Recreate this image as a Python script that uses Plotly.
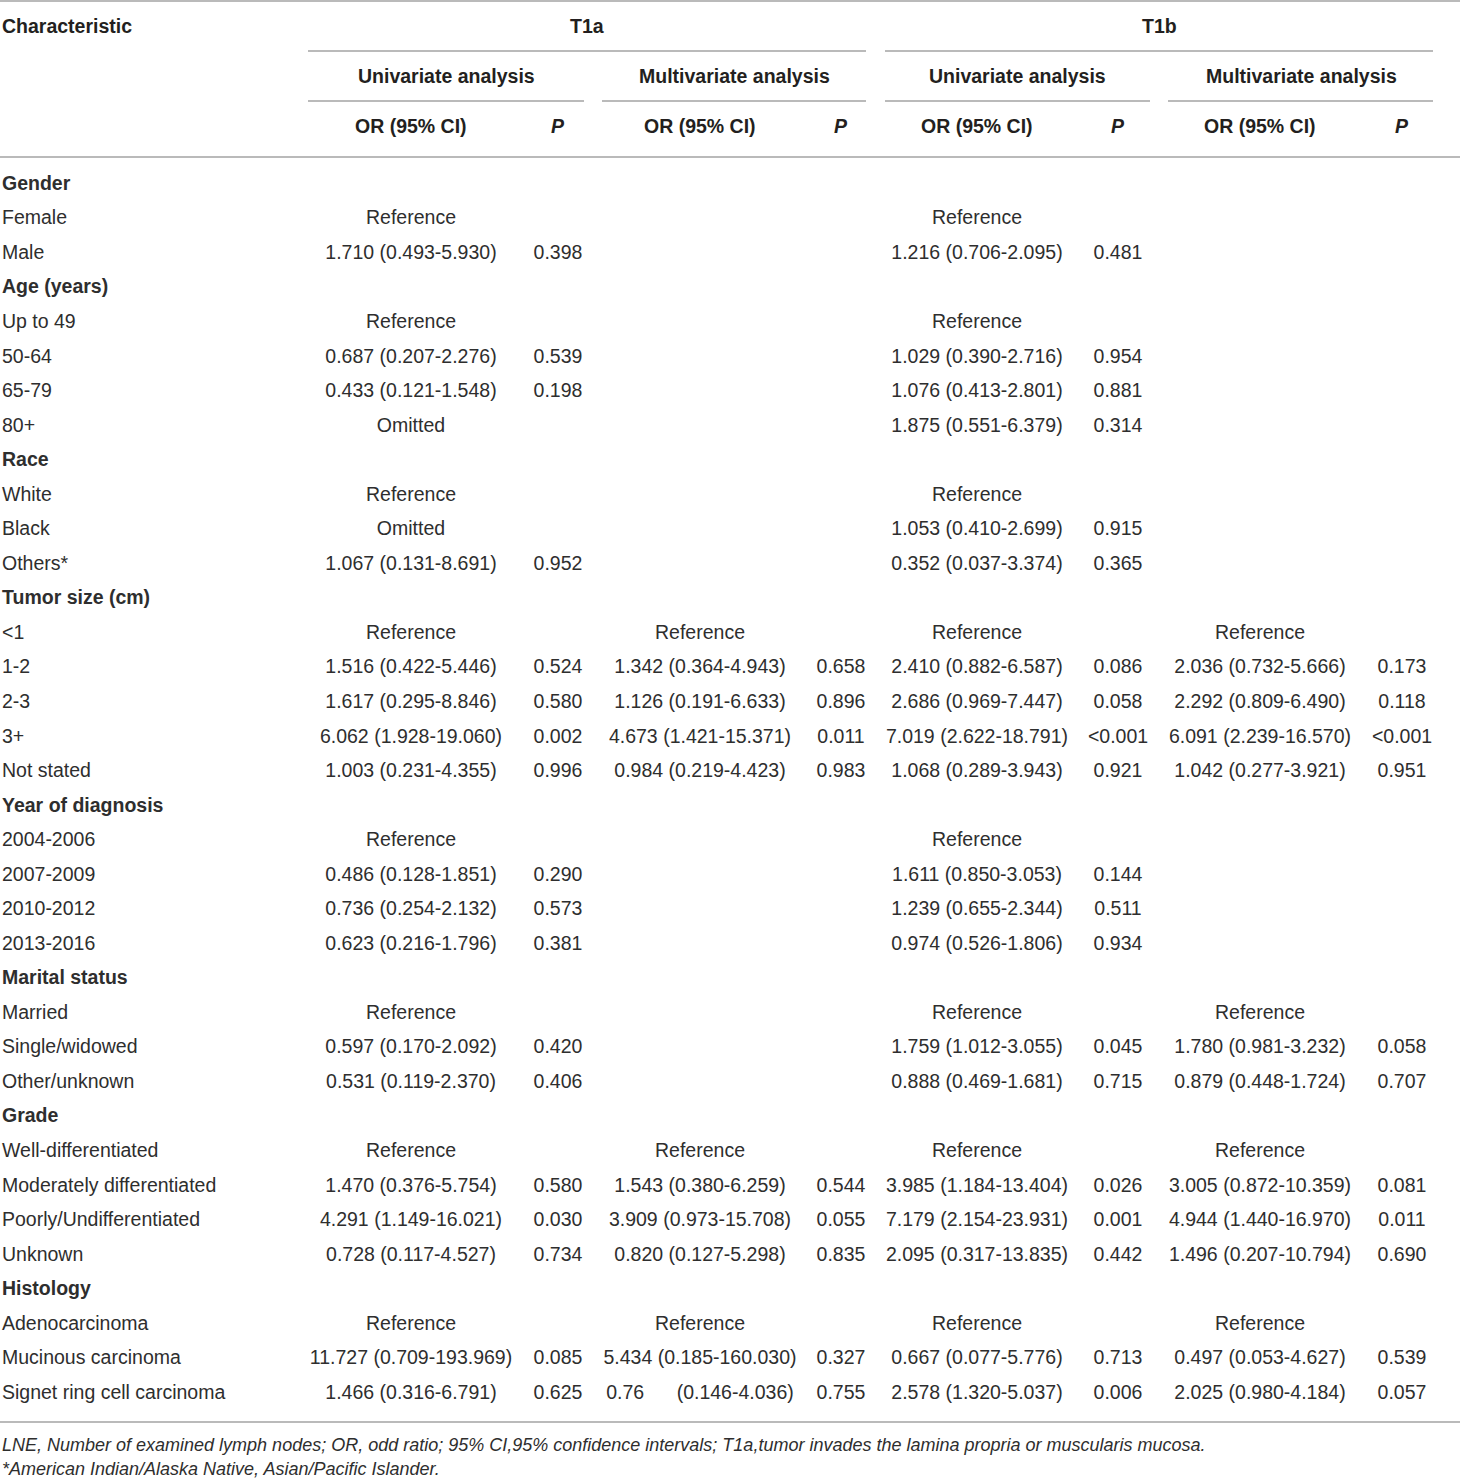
import plotly.graph_objects as go

# ---------------------------------------
# table data
# ---------------------------------------

labels = [
    "Gender", "Female", "Male",
    "Age (years)", "Up to 49", "50-64", "65-79", "80+",
    "Race", "White", "Black", "Others*",
    "Tumor size (cm)", "<1", "1-2", "2-3", "3+", "Not stated",
    "Year of diagnosis", "2004-2006", "2007-2009", "2010-2012", "2013-2016",
    "Marital status", "Married", "Single/widowed", "Other/unknown",
    "Grade", "Well-differentiated", "Moderately differentiated",
    "Poorly/Undifferentiated", "Unknown",
    "Histology", "Adenocarcinoma", "Mucinous carcinoma", "Signet ring cell carcinoma",
]

sections = ["Gender", "Age (years)", "Race", "Tumor size (cm)", "Year of diagnosis",
            "Marital status", "Grade", "Histology"]

t1a_uni_or = [
    "", "Reference", "1.710 (0.493-5.930)",
    "", "Reference", "0.687 (0.207-2.276)", "0.433 (0.121-1.548)", "Omitted",
    "", "Reference", "Omitted", "1.067 (0.131-8.691)",
    "", "Reference", "1.516 (0.422-5.446)", "1.617 (0.295-8.846)", "6.062 (1.928-19.060)", "1.003 (0.231-4.355)",
    "", "Reference", "0.486 (0.128-1.851)", "0.736 (0.254-2.132)", "0.623 (0.216-1.796)",
    "", "Reference", "0.597 (0.170-2.092)", "0.531 (0.119-2.370)",
    "", "Reference", "1.470 (0.376-5.754)", "4.291 (1.149-16.021)", "0.728 (0.117-4.527)",
    "", "Reference", "11.727 (0.709-193.969)", "1.466 (0.316-6.791)",
]
t1a_uni_p = [
    "", "", "0.398",
    "", "", "0.539", "0.198", "",
    "", "", "", "0.952",
    "", "", "0.524", "0.580", "0.002", "0.996",
    "", "", "0.290", "0.573", "0.381",
    "", "", "0.420", "0.406",
    "", "", "0.580", "0.030", "0.734",
    "", "", "0.085", "0.625",
]
t1a_multi_or = [
    "", "", "",
    "", "", "", "", "",
    "", "", "", "",
    "", "Reference", "1.342 (0.364-4.943)", "1.126 (0.191-6.633)", "4.673 (1.421-15.371)", "0.984 (0.219-4.423)",
    "", "", "", "", "",
    "", "", "", "",
    "", "Reference", "1.543 (0.380-6.259)", "3.909 (0.973-15.708)", "0.820 (0.127-5.298)",
    "", "Reference", "5.434 (0.185-160.030)", "0.76\u00a0\u00a0\u00a0\u00a0\u00a0\u00a0(0.146-4.036)",
]
t1a_multi_p = [
    "", "", "",
    "", "", "", "", "",
    "", "", "", "",
    "", "", "0.658", "0.896", "0.011", "0.983",
    "", "", "", "", "",
    "", "", "", "",
    "", "", "0.544", "0.055", "0.835",
    "", "", "0.327", "0.755",
]
t1b_uni_or = [
    "", "Reference", "1.216 (0.706-2.095)",
    "", "Reference", "1.029 (0.390-2.716)", "1.076 (0.413-2.801)", "1.875 (0.551-6.379)",
    "", "Reference", "1.053 (0.410-2.699)", "0.352 (0.037-3.374)",
    "", "Reference", "2.410 (0.882-6.587)", "2.686 (0.969-7.447)", "7.019 (2.622-18.791)", "1.068 (0.289-3.943)",
    "", "Reference", "1.611 (0.850-3.053)", "1.239 (0.655-2.344)", "0.974 (0.526-1.806)",
    "", "Reference", "1.759 (1.012-3.055)", "0.888 (0.469-1.681)",
    "", "Reference", "3.985 (1.184-13.404)", "7.179 (2.154-23.931)", "2.095 (0.317-13.835)",
    "", "Reference", "0.667 (0.077-5.776)", "2.578 (1.320-5.037)",
]
t1b_uni_p = [
    "", "", "0.481",
    "", "", "0.954", "0.881", "0.314",
    "", "", "0.915", "0.365",
    "", "", "0.086", "0.058", "<0.001", "0.921",
    "", "", "0.144", "0.511", "0.934",
    "", "", "0.045", "0.715",
    "", "", "0.026", "0.001", "0.442",
    "", "", "0.713", "0.006",
]
t1b_multi_or = [
    "", "", "",
    "", "", "", "", "",
    "", "", "", "",
    "", "Reference", "2.036 (0.732-5.666)", "2.292 (0.809-6.490)", "6.091 (2.239-16.570)", "1.042 (0.277-3.921)",
    "", "", "", "", "",
    "", "Reference", "1.780 (0.981-3.232)", "0.879 (0.448-1.724)",
    "", "Reference", "3.005 (0.872-10.359)", "4.944 (1.440-16.970)", "1.496 (0.207-10.794)",
    "", "Reference", "0.497 (0.053-4.627)", "2.025 (0.980-4.184)",
]
t1b_multi_p = [
    "", "", "",
    "", "", "", "", "",
    "", "", "", "",
    "", "", "0.173", "0.118", "<0.001", "0.951",
    "", "", "", "", "",
    "", "", "0.058", "0.707",
    "", "", "0.081", "0.011", "0.690",
    "", "", "0.539", "0.057",
]

groups = ["T1a", "T1b"]
analyses = ["Univariate analysis", "Multivariate analysis"]

footnotes = [
    "LNE, Number of examined lymph nodes; OR, odd ratio; 95% CI,95% confidence intervals; "
    "T1a,tumor invades the lamina propria or muscularis mucosa.",
    "*American Indian/Alaska Native, Asian/Pacific Islander.",
]

# ---------------------------------------
# layout constants (pixels)
# ---------------------------------------

W = 1460
H = 1479
ROW0 = 185
ROW_H = 34.54
FONT = "Liberation Sans, Arial, sans-serif"
TXT = "#231f20"
BODY = "#2e2e2e"
LINE = "#a3a3a3"

or_x = [411, 700, 977, 1260]
p_x = [558, 841, 1118, 1402]
analysis_x = [446, 734, 1017, 1301]
group_x = [587, 1159]

row_y = [ROW0 + i * ROW_H for i in range(len(labels))]

fig = go.Figure()

label_text = ["<b>%s</b>" % s if s in sections else s for s in labels]

fig.add_trace(go.Scatter(
    x=[2] * len(labels),
    y=row_y,
    text=label_text,
    mode="text",
    textposition="middle right",
    textfont=dict(family=FONT, size=19.5, color=BODY),
    hoverinfo="skip"
))

columns = [t1a_uni_or, t1a_uni_p, t1a_multi_or, t1a_multi_p,
           t1b_uni_or, t1b_uni_p, t1b_multi_or, t1b_multi_p]
col_x = [or_x[0], p_x[0], or_x[1], p_x[1], or_x[2], p_x[2], or_x[3], p_x[3]]

for vals, cx in zip(columns, col_x):
    fig.add_trace(go.Scatter(
        x=[cx] * len(vals),
        y=row_y,
        text=vals,
        mode="text",
        textposition="middle center",
        textfont=dict(family=FONT, size=19.5, color=BODY),
        hoverinfo="skip"
    ))

# ---------------------------------------
# header text
# ---------------------------------------

ann = [dict(x=0, y=26, text="<b>Characteristic</b>", xanchor="left")]

for g, gx in zip(groups, group_x):
    ann.append(dict(x=gx, y=26, text="<b>%s</b>" % g, xanchor="center"))

for i, ax in enumerate(analysis_x):
    ann.append(dict(x=ax, y=76, text="<b>%s</b>" % analyses[i % 2], xanchor="center"))

for ox, px_ in zip(or_x, p_x):
    ann.append(dict(x=ox, y=126, text="<b>OR (95% CI)</b>", xanchor="center"))
    ann.append(dict(x=px_, y=126, text="<b><i>P</i></b>", xanchor="center"))

for a in ann:
    a.update(xref="x", yref="y", yanchor="middle", showarrow=False,
             font=dict(family=FONT, size=19.5, color=TXT))

for i, note in enumerate(footnotes):
    ann.append(dict(
        x=0, y=1445 + i * 24, text="<i>%s</i>" % note,
        xref="x", yref="y", xanchor="left", yanchor="middle", showarrow=False,
        font=dict(family=FONT, size=18, color=BODY)
    ))

# ---------------------------------------
# rules
# ---------------------------------------

rules = [
    (0, W, 1), (308, 866, 51), (885, 1433, 51),
    (308, 584, 101), (602, 866, 101), (885, 1150, 101), (1168, 1433, 101),
    (0, W, 157), (0, W, 1422),
]

shapes = [
    dict(type="line", xref="x", yref="y", x0=x0, x1=x1, y0=y, y1=y,
         line=dict(color=LINE, width=1.6))
    for x0, x1, y in rules
]

fig.update_layout(
    width=W,
    height=H,
    margin=dict(l=0, r=0, t=0, b=0),
    paper_bgcolor="white",
    plot_bgcolor="white",
    showlegend=False,
    annotations=ann,
    shapes=shapes,
    xaxis=dict(range=[0, W], visible=False, fixedrange=True),
    yaxis=dict(range=[H, 0], visible=False, fixedrange=True),
)

fig.write_html(
    "out.html",
    config={"displayModeBar": False},
    post_script="document.body.style.margin='0';"
)
